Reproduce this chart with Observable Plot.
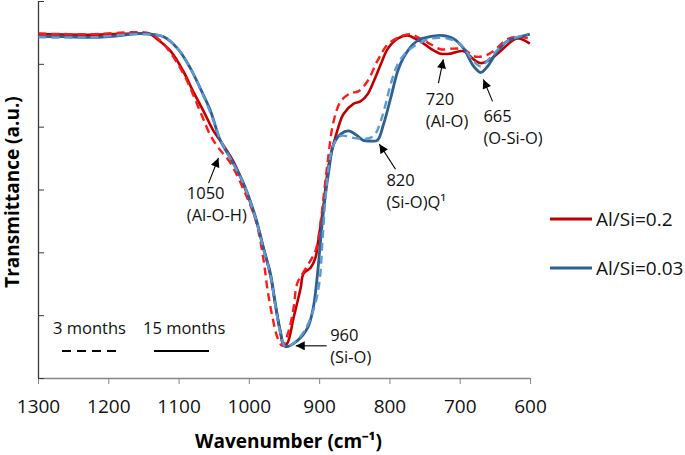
<!DOCTYPE html>
<html><head><meta charset="utf-8">
<script src="https://cdn.jsdelivr.net/npm/d3@7"></script>
<script src="https://cdn.jsdelivr.net/npm/@observablehq/plot@0.6"></script>
<style>
html,body{margin:0;padding:0;background:#fff;}
#chart{position:relative;width:685px;height:455px;}
</style></head><body><div id="chart"></div>
<script>
// Al/Si=0.2, 15 months (solid)
const wnR15 = [1300,1226,1165,1141,1131,1112,1094,1080,1065,1051,1041,1023,1008,991,980,970,963,956,951,946,937,927,923,913,906,902,895,887,875,866,852,842,832,823,813,803,789,775,764,757,742,728,714,695,681,671,657,643,619,601];
const tR15  = [5.48,5.47,5.49,5.48,5.40,5.21,4.89,4.57,4.25,3.94,3.78,3.46,3.08,2.54,2.08,1.64,1.17,0.74,0.52,0.56,0.97,1.44,1.67,1.76,1.92,2.19,2.71,3.41,3.94,4.21,4.37,4.41,4.52,4.73,5.00,5.25,5.41,5.46,5.41,5.37,5.25,5.17,5.17,5.21,5.08,5.02,5.08,5.21,5.41,5.33];
// Al/Si=0.2, 3 months (dashed)
const wnR3 = [1300,1226,1165,1141,1126,1109,1091,1070,1055,1044,1027,1006,991,980,974,967,960,953,944,937,932,920,906,899,889,880,870,856,845,832,818,803,785,771,752,742,728,710,695,681,667,653,633,619,601];
const tR3  = [5.49,5.48,5.51,5.49,5.37,5.13,4.79,4.25,3.86,3.67,3.43,2.95,2.52,1.90,1.40,0.97,0.65,0.52,0.76,1.13,1.51,1.75,2.03,2.46,3.41,4.10,4.41,4.54,4.57,4.73,5.05,5.32,5.44,5.48,5.38,5.32,5.24,5.25,5.24,5.13,5.13,5.21,5.40,5.44,5.41];
// Al/Si=0.03, 15 months (solid)
const wnB15 = [1300,1262,1226,1190,1155,1122,1102,1084,1070,1055,1041,1027,1008,991,980,970,963,956,949,932,917,909,903,900,895,887,880,870,859,846,838,828,818,809,799,789,781,767,757,747,728,710,695,681,671,661,647,633,614,601];
const tB15  = [5.44,5.44,5.43,5.45,5.49,5.44,5.25,4.94,4.62,4.25,3.78,3.51,3.10,2.56,2.08,1.67,1.19,0.76,0.51,0.60,0.81,1.13,1.67,2.03,2.62,3.30,3.73,3.89,3.94,3.86,3.79,3.78,3.79,4.05,4.46,4.89,5.10,5.32,5.40,5.43,5.46,5.41,5.25,4.97,4.87,4.97,5.21,5.37,5.44,5.48];
// Al/Si=0.03, 3 months (dashed)
const wnB3 = [1300,1226,1155,1122,1102,1084,1055,1041,1027,1008,991,980,970,963,956,949,937,920,907,900,896,892,887,880,870,852,838,823,813,806,799,789,775,759,742,718,700,681,671,653,633,604];
const tB3  = [5.43,5.43,5.48,5.44,5.25,4.94,4.22,3.79,3.50,3.09,2.54,2.06,1.64,1.16,0.73,0.51,0.56,0.79,1.16,1.56,2.19,2.83,3.38,3.73,3.86,3.83,3.81,3.86,4.10,4.37,4.68,5.00,5.21,5.33,5.41,5.41,5.32,5.05,4.97,5.16,5.37,5.48];

const xTicks = [1300,1200,1100,1000,900,800,700,600];
const yTicks = [0,1,2,3,4,5,6];

// annotations
const annLabels = ["1050\n(Al-O-H)", "960\n(Si-O)", "820\n(Si-O)Q¹", "720\n(Al-O)", "665\n(O-Si-O)"];
const annTextWn = [1089, 885, 805, 749, 667];
const annTextT  = [2.79, 0.53, 3.00, 4.29, 4.02];
const arrFromWn = [1058, 890, 792, 731, 654];
const arrFromT  = [3.11, 0.52, 3.33, 4.70, 4.41];
const arrToWn   = [1044, 934, 815, 724, 667];
const arrToT    = [3.51, 0.52, 3.73, 5.08, 4.76];

const seriesNames = ["Al/Si=0.2", "Al/Si=0.03"];
const periodNames = ["3 months", "15 months"];

const toRows = (wn, t) => wn.map((w, i) => ({wn: w, t: t[i]}));
const ann = annLabels.map((l, i) => ({label: l, x: annTextWn[i], y: annTextT[i], x1: arrFromWn[i], y1: arrFromT[i], x2: arrToWn[i], y2: arrToT[i]}));

const FONT = "'Open Sans', sans-serif";
const lineOpts = {x: "wn", y: "t", curve: "catmull-rom", strokeLinejoin: "round", strokeLinecap: "butt"};

const chart = Plot.plot({
  width: 685, height: 455,
  marginLeft: 38, marginRight: 155, marginTop: 1, marginBottom: 77,
  x: {domain: [1300, 600]},
  y: {domain: [0, 6]},
  style: {fontFamily: FONT, background: "white", overflow: "visible"},
  marks: [
    Plot.ruleY([0], {stroke: "#868686", strokeWidth: 1.3}),
    Plot.ruleX([1300], {stroke: "#3a3a3a", strokeWidth: 1.3}),
    Plot.axisX({ticks: xTicks, tickSize: 6, tickPadding: 15, fontSize: 19, stroke: "#868686", fill: "#111", label: null, tickFormat: d => String(d)}),
    Plot.axisY({ticks: yTicks, tickSize: -6, tickFormat: () => "", stroke: "#3a3a3a", label: null}),
    Plot.line(toRows(wnR15, tR15), {...lineOpts, stroke: "#C00000", strokeWidth: 2.6}),
    Plot.line(toRows(wnR3, tR3), {...lineOpts, stroke: "#FF1A1A", strokeWidth: 2.4, strokeDasharray: "8,5"}),
    Plot.line(toRows(wnB15, tB15), {...lineOpts, stroke: "#2F6090", strokeWidth: 2.8}),
    Plot.line(toRows(wnB3, tB3), {...lineOpts, stroke: "#5B9BD5", strokeWidth: 2.4, strokeDasharray: "8,5"}),
    Plot.link(ann, {x1: "x1", y1: "y1", x2: "x2", y2: "y2", stroke: "#000", strokeWidth: 1.1}),
    Plot.text(ann, {x: "x", y: "y", text: "label", textAnchor: "start", lineAnchor: "middle", lineHeight: 1.33, fontSize: 16.5, fill: "#111"}),
    Plot.text(["Wavenumber (cm⁻¹)"], {frameAnchor: "bottom", textAnchor: "middle", dx: 4, dy: 63, lineAnchor: "middle", fontSize: 19, fontWeight: "bold", fill: "#000"}),
    Plot.text(["Transmittance (a.u.)"], {frameAnchor: "left", textAnchor: "middle", rotate: -90, dx: -26, dy: 2, lineAnchor: "middle", fontSize: 19, fontWeight: "bold", fill: "#000"})
  ]
});

// arrowhead markers
const svg = d3.select(chart.tagName.toLowerCase() === "svg" ? chart : chart.querySelector("svg"));
svg.append("defs").append("marker")
  .attr("id", "ahead").attr("viewBox", "0 0 10 10").attr("refX", 10).attr("refY", 5)
  .attr("markerUnits", "userSpaceOnUse").attr("markerWidth", 10).attr("markerHeight", 9)
  .attr("orient", "auto")
  .append("path").attr("d", "M0,0L10,5L0,10z").attr("fill", "#000");
svg.selectAll('g[aria-label="link"] path').attr("marker-end", "url(#ahead)");

// series legend (right)
const leg = svg.append("g").attr("font-family", FONT).attr("font-size", 19).attr("fill", "#111").attr("text-anchor", "start");
const legColors = ["#C00000", "#2F6090"];
seriesNames.forEach((name, i) => {
  const y = 219 + i * 49;
  leg.append("line").attr("x1", 550).attr("x2", 592).attr("y1", y).attr("y2", y)
    .attr("stroke", legColors[i]).attr("stroke-width", 3);
  leg.append("text").attr("x", 596).attr("y", y).attr("dy", "0.35em").text(name);
});

// period legend (bottom-left, inside plot)
const leg2 = svg.append("g").attr("font-family", FONT).attr("font-size", 16.5).attr("fill", "#111").attr("text-anchor", "start");
const pX = [[53, 62, 118, "9,6"], [143, 154, 209, null]];
periodNames.forEach((name, i) => {
  const [tx, lx1, lx2, dash] = pX[i];
  leg2.append("text").attr("x", tx).attr("y", 328).attr("dy", "0.35em").text(name);
  const ln = leg2.append("line").attr("x1", lx1).attr("x2", lx2).attr("y1", 351).attr("y2", 351)
    .attr("stroke", "#000").attr("stroke-width", 2);
  if (dash) ln.attr("stroke-dasharray", dash);
});

document.getElementById("chart").appendChild(chart);
</script>
</body></html>
